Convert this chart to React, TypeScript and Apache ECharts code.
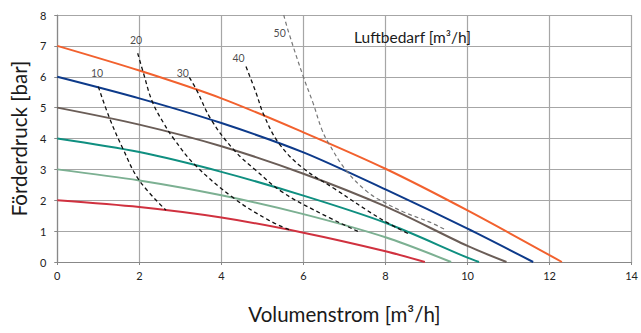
import React, { useEffect, useRef } from "react";
import * as echarts from "echarts";

// Pump curves (solid): Förderdruck vs Volumenstrom for supply pressures
const p7X = [0, 2, 4, 6, 8, 10, 12.3];
const p7Y = [7, 6.2, 5.3, 4.2, 3.02, 1.67, 0];
const p6X = [0, 2, 4, 6, 8, 10, 11.6];
const p6Y = [6, 5.3, 4.5, 3.55, 2.35, 1.08, 0];
const p5X = [0, 2, 4, 6, 8, 10, 10.95];
const p5Y = [5, 4.45, 3.75, 2.86, 1.8, 0.52, 0];
const p4X = [0, 2, 4, 6, 8, 10, 10.28];
const p4Y = [4, 3.56, 2.92, 2.15, 1.27, 0.14, 0];
const p3X = [0, 2, 4, 6, 8, 9.6];
const p3Y = [3, 2.64, 2.16, 1.55, 0.8, 0];
const p2X = [0, 2, 4, 6, 8, 8.96];
const p2Y = [2, 1.78, 1.44, 0.95, 0.35, 0];

// Air consumption curves (dashed): Luftbedarf 10..50 m³/h
const a10X = [1.0, 1.28, 1.6, 2.0, 2.65];
const a10Y = [5.68, 4.64, 3.67, 2.64, 1.68];
const a20X = [1.96, 2.1, 2.32, 2.6, 2.84, 3.36, 4.3, 5.16, 5.68];
const a20Y = [6.76, 6.12, 5.18, 4.48, 3.99, 3.14, 2.07, 1.35, 1.03];
const a30X = [3.22, 3.4, 3.76, 4.32, 4.84, 5.48, 6.28, 7.36];
const a30Y = [5.98, 5.56, 4.59, 3.61, 2.97, 2.27, 1.67, 0.97];
const a40X = [4.6, 4.84, 5.04, 5.4, 5.96, 6.76, 7.88, 8.55];
const a40Y = [6.33, 5.5, 4.75, 3.85, 3.07, 2.37, 1.4, 0.92];
const a50X = [5.52, 5.64, 6.0, 6.24, 6.44, 6.6, 7.04, 7.56, 7.96, 8.44, 9.08, 9.48];
const a50Y = [8.0, 7.44, 5.99, 5.13, 4.32, 3.88, 2.97, 2.27, 1.94, 1.62, 1.29, 1.03];

// Labels of the dashed curves
const airLabels = ["10", "20", "30", "40", "50"];
const airLabelX = [0.97, 1.92, 3.06, 4.42, 5.42];
const airLabelY = [6.12, 7.18, 6.12, 6.61, 7.42];

const xMin = 0, xMax = 14, xStep = 2;
const yMin = 0, yMax = 8, yStep = 1;

const FONT = "Lato, 'Open Sans', sans-serif";

const pts = (xs: number[], ys: number[]) => xs.map((x, i) => [x, ys[i]]);

const pump = (xs: number[], ys: number[], color: string) => ({
  type: "line",
  data: pts(xs, ys),
  smooth: 0.3,
  showSymbol: false,
  symbol: "none",
  lineStyle: { color, width: 2 },
  z: 3,
});

const air = (xs: number[], ys: number[], color: string, width: number) => ({
  type: "line",
  data: pts(xs, ys),
  smooth: 0.4,
  showSymbol: false,
  symbol: "none",
  lineStyle: { color, width, type: [4, 3] },
  z: 4,
});

export default function App() {
  const ref = useRef<HTMLDivElement>(null);
  useEffect(() => {
    if (!ref.current) return;
    const chart = echarts.init(ref.current, undefined, { renderer: "svg" });
    chart.setOption({
      animation: false,
      backgroundColor: "#ffffff",
      textStyle: { fontFamily: FONT },
      title: {
        text: "Luftbedarf [m³/h]",
        left: 354,
        top: 29,
        padding: 0,
        textStyle: { fontFamily: FONT, fontSize: 15.5, fontWeight: "normal", color: "#1a1a1a" },
      },
      grid: { left: 52, right: 6, top: 15, bottom: 71, containLabel: false },
      xAxis: {
        type: "value",
        min: xMin,
        max: xMax,
        interval: xStep,
        name: "Volumenstrom [m³/h]",
        nameLocation: "middle",
        nameGap: 41,
        nameTextStyle: { fontFamily: FONT, fontSize: 20.5, color: "#1a1a1a" },
        axisLine: { show: true, lineStyle: { color: "#888", width: 1.2 } },
        axisTick: { show: true, length: 3, lineStyle: { color: "#888" } },
        axisLabel: { fontFamily: FONT, fontSize: 11, color: "#222", margin: 8 },
        splitLine: { show: true, lineStyle: { color: "#a6a6a6", width: 1.2 } },
      },
      yAxis: {
        type: "value",
        min: yMin,
        max: yMax,
        interval: yStep,
        name: "Förderdruck [bar]",
        nameLocation: "middle",
        nameGap: 27,
        nameTextStyle: { fontFamily: FONT, fontSize: 20.5, color: "#1a1a1a" },
        axisLine: { show: true, lineStyle: { color: "#888", width: 1.2 } },
        axisTick: { show: true, length: 3, lineStyle: { color: "#888" } },
        axisLabel: { fontFamily: FONT, fontSize: 11, color: "#222", margin: 11 },
        splitLine: { show: true, lineStyle: { color: "#a6a6a6", width: 1.2 } },
      },
      series: [
        pump(p2X, p2Y, "#d0313f"),
        pump(p3X, p3Y, "#7cb092"),
        pump(p4X, p4Y, "#0f8f80"),
        pump(p5X, p5Y, "#6a5d57"),
        pump(p6X, p6Y, "#0d3a8a"),
        pump(p7X, p7Y, "#f2612e"),
        air(a10X, a10Y, "#111", 1.3),
        air(a20X, a20Y, "#111", 1.3),
        air(a30X, a30Y, "#111", 1.3),
        air(a40X, a40Y, "#111", 1.3),
        air(a50X, a50Y, "#777", 1.2),
        {
          type: "scatter",
          symbolSize: 0,
          data: airLabels.map((t, i) => ({ value: [airLabelX[i], airLabelY[i]], name: t })),
          label: {
            show: true,
            position: "inside",
            formatter: (p: any) => p.name,
            fontFamily: FONT,
            fontSize: 10.5,
            color: "#1a1a1a",
          },
          z: 5,
        },
      ],
    });
    return () => chart.dispose();
  }, []);
  return (
    <div
      ref={ref}
      style={{ position: "absolute", left: 0, top: 0, width: 641, height: 333 }}
    />
  );
}
